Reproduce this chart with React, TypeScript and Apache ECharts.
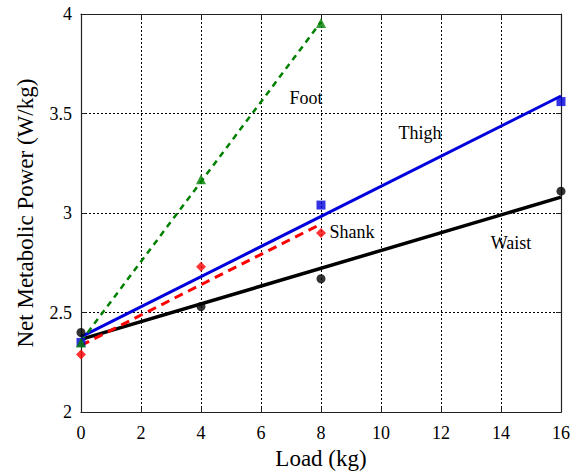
import React, { useEffect, useRef } from "react";
import * as echarts from "echarts";

const xTicks = [0, 2, 4, 6, 8, 10, 12, 14, 16];
const waistX = [0, 4, 8, 16];
const waistY = [2.4, 2.53, 2.67, 3.11];
const thighX = [0, 8, 16];
const thighY = [2.35, 3.04, 3.56];
const shankX = [0, 4, 8];
const shankY = [2.29, 2.73, 2.9];
const footX = [0, 4, 8];
const footY = [2.35, 3.17, 3.955];

// fitted line endpoints [x, y]
const waistFit = [[0, 2.365], [16, 3.08]];
const thighFit = [[0, 2.378], [16, 3.588]];
const shankFit = [[0, 2.335], [8, 2.945]];
const footFit = [[0, 2.355], [8, 3.96]];

const labels = [
  { name: "Foot", x: 306, y: 98 },
  { name: "Thigh", x: 420, y: 133 },
  { name: "Shank", x: 352, y: 232 },
  { name: "Waist", x: 511, y: 243 },
];

const serif = "Liberation Serif";

function pts(xs: number[], ys: number[]) {
  return xs.map((x, i) => [x, ys[i]]);
}

export default function App() {
  const ref = useRef<HTMLDivElement>(null);
  useEffect(() => {
    const chart = echarts.init(ref.current!, null, { renderer: "svg" });
    const axisBase = {
      type: "value" as const,
      axisLine: { show: true, onZero: false, lineStyle: { color: "#222", width: 1.2 } },
      axisTick: { show: true, inside: true, length: 5, lineStyle: { color: "#222" } },
    };
    chart.setOption({
      animation: false,
      backgroundColor: "#fff",
      grid: { left: 81, right: 16, top: 14, bottom: 61, show: false },
      xAxis: [
        {
          ...axisBase,
          min: 0,
          max: 16,
          interval: 2,
          name: "Load (kg)",
          nameLocation: "middle",
          nameGap: 33,
          nameTextStyle: { fontFamily: serif, fontSize: 23, color: "#000" },
          axisLabel: { fontFamily: serif, fontSize: 18, color: "#000", margin: 12 },
          splitLine: { show: true, lineStyle: { type: [2, 2], color: "#000", width: 1 } },
        },
        {
          ...axisBase,
          position: "top",
          min: 0,
          max: 16,
          interval: 2,
          axisLabel: { show: false },
          splitLine: { show: false },
        },
      ],
      yAxis: [
        {
          ...axisBase,
          min: 2,
          max: 4,
          interval: 0.5,
          name: "Net Metabolic Power (W/kg)",
          nameLocation: "middle",
          nameGap: 44,
          nameTextStyle: { fontFamily: serif, fontSize: 23, color: "#000" },
          axisLabel: { fontFamily: serif, fontSize: 18, color: "#000", margin: 9 },
          splitLine: { show: true, lineStyle: { type: [2, 2], color: "#000", width: 1 } },
        },
        {
          ...axisBase,
          position: "right",
          min: 2,
          max: 4,
          interval: 0.5,
          axisLabel: { show: false },
          splitLine: { show: false },
        },
      ],
      series: [
        {
          type: "line",
          data: waistFit,
          symbol: "none",
          lineStyle: { color: "#000", width: 3.5 },
          z: 3,
        },
        {
          type: "line",
          data: thighFit,
          symbol: "none",
          lineStyle: { color: "#0000dd", width: 3 },
          z: 3,
        },
        {
          type: "line",
          data: shankFit,
          symbol: "none",
          lineStyle: { color: "#ff0000", width: 3, type: [9, 6] },
          z: 3,
        },
        {
          type: "line",
          data: footFit,
          symbol: "none",
          lineStyle: { color: "#008000", width: 2.5, type: [6, 5] },
          z: 3,
        },
        {
          type: "scatter",
          data: pts(waistX, waistY),
          symbol: "circle",
          symbolSize: 9,
          itemStyle: { color: "#000" },
          z: 4,
        },
        {
          type: "scatter",
          data: pts(thighX, thighY),
          symbol: "rect",
          symbolSize: 9,
          itemStyle: { color: "#0000dd" },
          z: 4,
        },
        {
          type: "scatter",
          data: pts(shankX, shankY),
          symbol: "diamond",
          symbolSize: 10,
          itemStyle: { color: "#ff0000" },
          z: 4,
        },
        {
          type: "scatter",
          data: pts(footX, footY),
          symbol: "triangle",
          symbolSize: 10,
          itemStyle: { color: "#008000" },
          z: 5,
        },
      ],
      graphic: labels.map((l) => ({
        type: "text",
        x: l.x,
        y: l.y,
        style: {
          text: l.name,
          fontFamily: serif,
          fontSize: 18,
          fill: "#000",
          align: "center",
          verticalAlign: "middle",
        },
        z: 10,
      })),
    });
    return () => chart.dispose();
  }, []);
  return <div ref={ref} style={{ width: 577, height: 475, position: "absolute", left: 0, top: 0 }} />;
}
